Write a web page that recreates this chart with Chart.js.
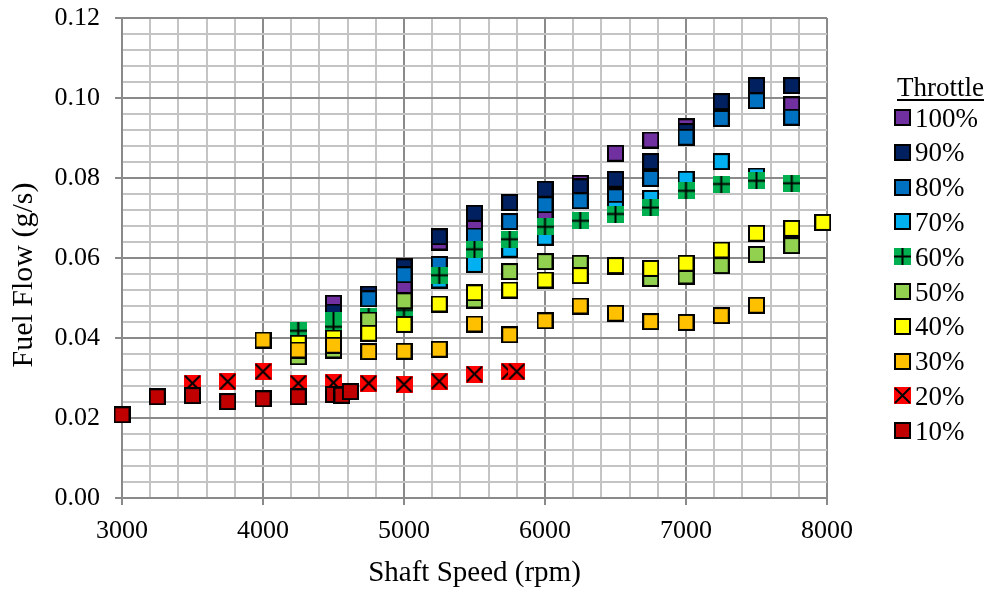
<!DOCTYPE html>
<html>
<head>
<meta charset="utf-8">
<script src="https://cdn.jsdelivr.net/npm/chart.js@4.4.0/dist/chart.umd.min.js"></script>
<style>
  html, body { margin: 0; padding: 0; background: #fff; }
</style>
</head>
<body>
<canvas id="myChart" width="992" height="591"></canvas>
<script>
const throttles = ["100%", "90%", "80%", "70%", "60%", "50%", "40%", "30%", "20%", "10%"];

const rpm100 = [4500, 5000, 5250, 5500, 6000, 6250, 6500, 6750, 7000, 7750];
const flow100 = [0.0487, 0.0527, 0.064, 0.068, 0.0705, 0.0787, 0.0862, 0.0895, 0.0928, 0.0983];

const rpm90 = [4500, 4750, 5000, 5250, 5500, 5750, 6000, 6250, 6500, 6750, 7000, 7250, 7500, 7750];
const flow90 = [0.0465, 0.051, 0.0578, 0.0653, 0.0712, 0.0739, 0.0772, 0.0778, 0.0797, 0.0841, 0.0916, 0.0991, 0.1031, 0.1031];

const rpm80 = [4750, 5000, 5250, 5500, 5750, 6000, 6250, 6500, 6750, 7000, 7250, 7500, 7750];
const flow80 = [0.0498, 0.0558, 0.0584, 0.0655, 0.0691, 0.0733, 0.0743, 0.0753, 0.0799, 0.0902, 0.0949, 0.0993, 0.0952];

const rpm70 = [5000, 5250, 5500, 5750, 6000, 6500, 6750, 7000, 7250, 7500];
const flow70 = [0.0465, 0.0545, 0.0584, 0.0622, 0.0652, 0.0722, 0.0749, 0.0797, 0.0841, 0.0805];

const rpm60 = [4250, 4500, 4500, 4750, 5000, 5250, 5500, 5750, 6000, 6250, 6500, 6750, 7000, 7250, 7500, 7750];
const flow60 = [0.0418, 0.0445, 0.0428, 0.0455, 0.047, 0.0557, 0.0622, 0.0647, 0.0678, 0.0693, 0.071, 0.0726, 0.0768, 0.0785, 0.0793, 0.0787];

const rpm50 = [4250, 4500, 4750, 5000, 5500, 5750, 6000, 6250, 6500, 6750, 7000, 7250, 7500, 7750];
const flow50 = [0.0353, 0.037, 0.0445, 0.0493, 0.0495, 0.0566, 0.0591, 0.0587, 0.0578, 0.0549, 0.0555, 0.0581, 0.0609, 0.0631];

const rpm40 = [4250, 4500, 4750, 5000, 5250, 5500, 5750, 6000, 6250, 6500, 6750, 7000, 7250, 7500, 7750, 7970];
const flow40 = [0.0387, 0.04, 0.0412, 0.0434, 0.0485, 0.0513, 0.052, 0.0545, 0.0556, 0.0581, 0.0574, 0.0587, 0.062, 0.0662, 0.0674, 0.0689];

const rpm30 = [4000, 4250, 4500, 4750, 5000, 5250, 5500, 5750, 6000, 6250, 6500, 6750, 7000, 7250, 7500];
const flow30 = [0.0395, 0.037, 0.0382, 0.0366, 0.0367, 0.0372, 0.0435, 0.0408, 0.0443, 0.048, 0.0462, 0.0441, 0.0439, 0.0456, 0.0482];

const rpm20 = [3500, 3750, 4000, 4250, 4500, 4750, 5000, 5250, 5500, 5750, 5800];
const flow20 = [0.0287, 0.0291, 0.0316, 0.0287, 0.0288, 0.0287, 0.0284, 0.0292, 0.031, 0.0316, 0.0316];

const rpm10 = [3000, 3250, 3500, 3750, 4000, 4250, 4500, 4560, 4620];
const flow10 = [0.0208, 0.0253, 0.0256, 0.0241, 0.0248, 0.0253, 0.0259, 0.0257, 0.0266];

const rpmSets = [rpm100, rpm90, rpm80, rpm70, rpm60, rpm50, rpm40, rpm30, rpm20, rpm10];
const flowSets = [flow100, flow90, flow80, flow70, flow60, flow50, flow40, flow30, flow20, flow10];

const colors = ["#7030A0", "#002060", "#0070C0", "#00B0F0", "#00B050", "#92D050", "#FFFF00", "#FFC000", "#FF0000", "#C00000"];
const kinds = ["box", "box", "box", "box", "plus", "box", "box", "box", "cross", "box"];

const FONT = "'Liberation Serif', 'Times New Roman', serif";

// marker images (square, square with +, square with x)
function makeMarker(fill, kind) {
  const c = document.createElement("canvas");
  c.width = 17;
  c.height = 17;
  const g = c.getContext("2d");
  if (kind === "box") {
    g.fillStyle = fill;
    g.fillRect(1, 1, 15, 15);
    g.strokeStyle = "#000";
    g.lineWidth = 2;
    g.strokeRect(1, 1, 15, 15);
  } else {
    g.fillStyle = fill;
    g.fillRect(0, 0, 17, 17);
    g.strokeStyle = "#000";
    g.lineWidth = 2;
    g.beginPath();
    if (kind === "plus") {
      g.moveTo(8.5, 0); g.lineTo(8.5, 17);
      g.moveTo(0, 8.5); g.lineTo(17, 8.5);
    } else {
      g.moveTo(1, 1); g.lineTo(16, 16);
      g.moveTo(16, 1); g.lineTo(1, 16);
    }
    g.stroke();
  }
  return c;
}

const markers = colors.map((c, i) => makeMarker(c, kinds[i]));

const datasets = throttles.map((label, i) => ({
  label: label,
  data: rpmSets[i].map((x, j) => ({ x: x, y: flowSets[i][j] })),
  pointStyle: markers[i],
  pointRadius: 9,
  pointHoverRadius: 9,
  showLine: false,
  clip: false,
  order: throttles.length - i,
}));

function isMajorX(v) { return Math.abs(v % 1000) < 1e-6; }
function isMajorY(v) { const r = v / 0.02; return Math.abs(r - Math.round(r)) < 1e-6; }

const sidePlugin = {
  id: "sideText",
  afterDraw(chart) {
    const ctx = chart.ctx;
    ctx.save();
    ctx.fillStyle = "#000";
    ctx.font = "27px " + FONT;
    ctx.textAlign = "left";
    ctx.textBaseline = "alphabetic";
    ctx.fillText("Throttle", 897, 96);
    const w = ctx.measureText("Throttle").width;
    ctx.fillRect(897, 99, w, 2);
    throttles.forEach((label, i) => {
      const cy = 117.5 + i * 34.8;
      ctx.drawImage(markers[i], 894, Math.round(cy - 8.5));
      ctx.fillText(label, 915, cy + 9);
    });
    ctx.translate(24, 275);
    ctx.rotate(-Math.PI / 2);
    ctx.textAlign = "center";
    ctx.textBaseline = "middle";
    ctx.font = "30px " + FONT;
    ctx.fillText("Fuel Flow (g/s)", 0, 0);
    ctx.restore();
  },
};

const ctx = document.getElementById("myChart").getContext("2d");
const myChart = new Chart(ctx, {
  type: "scatter",
  data: { datasets: datasets },
  options: {
    responsive: false,
    animation: false,
    devicePixelRatio: 1,
    layout: { padding: { top: 18, right: 165, bottom: 0, left: 0 } },
    plugins: {
      legend: { display: false },
      tooltip: { enabled: false },
    },
    scales: {
      x: {
        type: "linear",
        min: 3000,
        max: 8000,
        afterFit: (s) => { s.height = 93; s.paddingLeft = 0; s.paddingRight = 0; },
        ticks: {
          stepSize: 200,
          autoSkip: false,
          maxRotation: 0,
          padding: 11,
          color: "#000",
          font: { family: FONT, size: 26 },
          callback: (v) => (isMajorX(v) ? String(v) : ""),
        },
        grid: {
          color: (c) => (isMajorX(c.tick.value) ? "#8a8a8a" : "#c4c4c4"),
          lineWidth: 2,
          tickLength: 7,
          tickColor: (c) => (isMajorX(c.tick.value) ? "#8a8a8a" : "rgba(0,0,0,0)"),
        },
        border: { color: "#8a8a8a", width: 2 },
        title: {
          display: true,
          text: "Shaft Speed (rpm)",
          color: "#000",
          font: { family: FONT, size: 29 },
          padding: { top: 0, bottom: 0 },
        },
      },
      y: {
        type: "linear",
        min: 0,
        max: 0.12,
        afterFit: (s) => { s.width = 122; s.paddingTop = 0; s.paddingBottom = 0; },
        ticks: {
          stepSize: 0.004,
          autoSkip: false,
          padding: 15,
          color: "#000",
          font: { family: FONT, size: 26 },
          callback: (v) => (isMajorY(v) ? v.toFixed(2) : ""),
        },
        grid: {
          color: (c) => (isMajorY(c.tick.value) ? "#8a8a8a" : "#c4c4c4"),
          lineWidth: 2,
          tickLength: 7,
          tickColor: (c) => (isMajorY(c.tick.value) ? "#8a8a8a" : "rgba(0,0,0,0)"),
        },
        border: { color: "#8a8a8a", width: 2 },
      },
    },
  },
  plugins: [sidePlugin],
});
</script>
</body>
</html>
